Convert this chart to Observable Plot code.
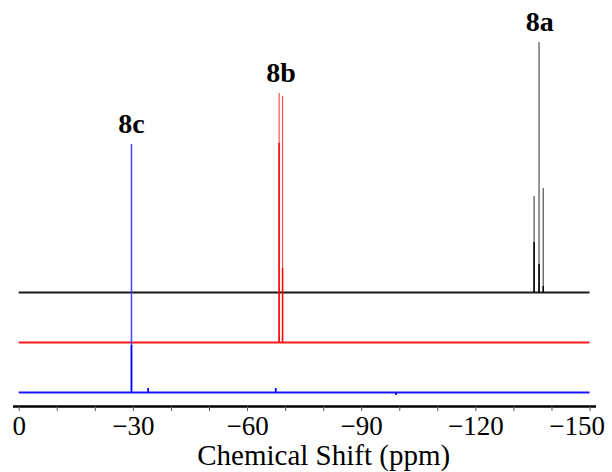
<!DOCTYPE html>
<html><head><meta charset="utf-8">
<script src="https://cdn.jsdelivr.net/npm/d3@7"></script>
<script src="https://cdn.jsdelivr.net/npm/@observablehq/plot@0.6"></script>
<style>body{margin:0;background:#fff}</style>
</head><body><div id="chart"></div>
<script>
// Series (top to bottom trace)
const seriesNames = ["8a", "8b", "8c"];
const seriesColors = ["#000000", "#ff0000", "#0000ff"];
const peakColors = ["#000000", "#ff0000", "#3a3aff"];
const peakWidths = [1.1, 1.1, 1.6];
const peakOpacity = [0.75, 0.75, 0.9];
const baselineOffsets = [114, 64, 14];
const traceStartPpm = 0;
const traceEndPpm = -150;

// Peak positions (ppm), heights and dark core heights (relative to baseline)
const peakPpm = [
  [-135.3, -136.6, -137.7],
  [-68.3, -69.2],
  [-29.5, -33.9, -67.4, -99.0]
];
const peakHeights = [
  [96, 250, 104],
  [249, 246],
  [248, 4, 4, -3]
];
const peakCores = [
  [50, 28, 6],
  [199, 74],
  [47, 4, 4, -3]
];
const labelPpm = [-136.8, -68.8, -29.5];

// Axis ticks and title
const minorTicks = d3.range(0, -151, -10);
const majorTicks = [0, -30, -60, -90, -120];
const lastTick = [-150];
const xLabel = "Chemical Shift (ppm)";
const xLabelCenterPpm = -80;

const serif = "Liberation Serif, Times New Roman, serif";
const marks = [];
seriesNames.forEach((name, i) => {
  const base = [{x1: traceStartPpm, x2: traceEndPpm, y: baselineOffsets[i]}];
  marks.push(Plot.ruleY(base, {x1: "x1", x2: "x2", y: "y", stroke: seriesColors[i], strokeWidth: 1.8, strokeOpacity: 0.9}));
  const peaks = peakPpm[i].map((p, j) => ({ppm: p, h: peakHeights[i][j], core: peakCores[i][j]}));
  marks.push(Plot.ruleX(peaks, {x: "ppm", y1: baselineOffsets[i], y2: d => baselineOffsets[i] + d.h, stroke: peakColors[i], strokeWidth: peakWidths[i], strokeOpacity: peakOpacity[i]}));
  marks.push(Plot.ruleX(peaks, {x: "ppm", y1: baselineOffsets[i], y2: d => baselineOffsets[i] + d.core, stroke: seriesColors[i], strokeWidth: 1.5}));
  const top = d3.max(peakHeights[i]);
  marks.push(Plot.text([{ppm: labelPpm[i], y: baselineOffsets[i] + top, t: name}], {
    x: "ppm", y: "y", text: "t", dy: -11.5, lineAnchor: "bottom",
    fontSize: 28, fontWeight: "bold", fontFamily: serif, fill: "#000"
  }));
});
marks.push(Plot.ruleY([0], {stroke: "#000", strokeWidth: 2.5}));
marks.push(Plot.axisX({ticks: minorTicks, tickSize: 5, tickFormat: () => "", label: null, stroke: "#555"}));
marks.push(Plot.axisX({ticks: majorTicks, tickSize: 0, tickPadding: 9, fontSize: 27, fontFamily: serif, fill: "#000", label: null}));
marks.push(Plot.axisX({ticks: lastTick, tickSize: 0, tickPadding: 9, dx: -13, fontSize: 27, fontFamily: serif, fill: "#000", label: null}));
marks.push(Plot.text([{ppm: xLabelCenterPpm, t: xLabel}], {
  x: "ppm", text: "t", frameAnchor: "bottom", dy: 58, lineAnchor: "bottom",
  fontSize: 29, fontFamily: serif, fill: "#000"
}));

const chart = Plot.plot({
  width: 612, height: 472,
  marginLeft: 13, marginRight: 16, marginTop: 0, marginBottom: 66,
  x: {domain: [1.5, -151.7], axis: null},
  y: {domain: [0, 406], axis: null},
  marks
});
document.getElementById("chart").appendChild(chart);
</script>
</body></html>
